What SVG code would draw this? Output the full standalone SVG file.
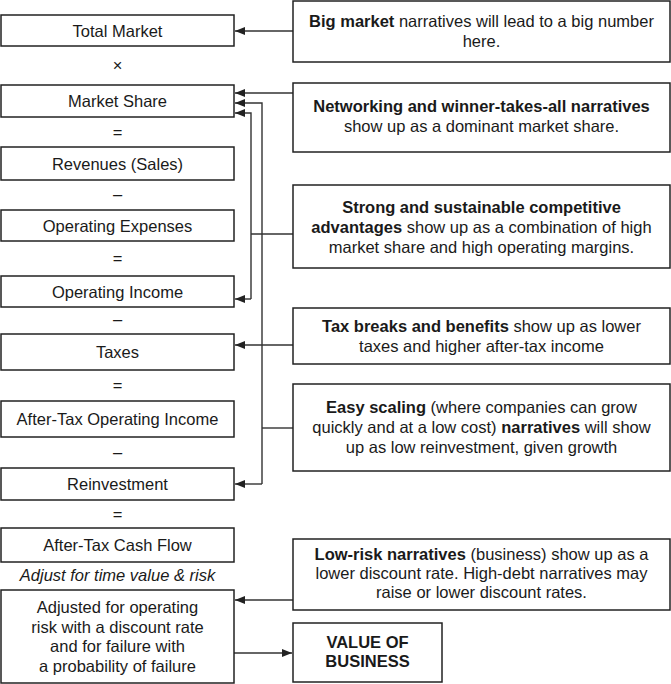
<svg xmlns="http://www.w3.org/2000/svg" width="671" height="684" viewBox="0 0 671 684">
<style>
  .box { fill: #fff; stroke: #222; stroke-width: 1.5; }
  .t { font-family: "Liberation Sans", Arial, Helvetica, sans-serif; font-size: 16.5px; fill: #1a1a1a; text-anchor: middle; }
  .b { font-weight: bold; }
  .i { font-style: italic; }
  .ln { fill: none; stroke: #333; stroke-width: 1.4; }
</style>
<defs>
  <marker id="ah" viewBox="0 0 10 8" refX="10" refY="4" markerWidth="10" markerHeight="8" markerUnits="userSpaceOnUse" orient="auto">
    <path d="M0,0 L10,4 L0,8 Z" fill="#222"/>
  </marker>
</defs>
<rect width="671" height="684" fill="#fff"/>

<g id="connectors">
  <line class="ln" x1="293" y1="31" x2="235" y2="31" marker-end="url(#ah)"/>
  <line class="ln" x1="293" y1="93" x2="235" y2="93" marker-end="url(#ah)"/>
  <polyline class="ln" points="262,484 262,103 235,103" marker-end="url(#ah)"/>
  <line class="ln" x1="262" y1="484" x2="235" y2="484" marker-end="url(#ah)"/>
  <line class="ln" x1="293" y1="428" x2="262" y2="428"/>
  <polyline class="ln" points="251,299 251,113 235,113" marker-end="url(#ah)"/>
  <line class="ln" x1="251" y1="299" x2="235" y2="299" marker-end="url(#ah)"/>
  <line class="ln" x1="293" y1="234" x2="251" y2="234"/>
  <line class="ln" x1="293" y1="345" x2="235" y2="345" marker-end="url(#ah)"/>
  <line class="ln" x1="293" y1="600" x2="235" y2="600" marker-end="url(#ah)"/>
  <line class="ln" x1="234" y1="653" x2="292" y2="653" marker-end="url(#ah)"/>
</g>

<g id="total-market"><rect class="box" x="1" y="15" width="233" height="31"/><text class="t" x="117.5" y="36.5">Total Market</text></g>
<text class="t" x="117.5" y="71">×</text>
<g id="market-share"><rect class="box" x="1" y="85" width="233" height="32"/><text class="t" x="117.5" y="107">Market Share</text></g>
<text class="t" x="117.5" y="137.5">=</text>
<g id="revenues"><rect class="box" x="1" y="147" width="233" height="33"/><text class="t" x="117.5" y="169.5">Revenues (Sales)</text></g>
<text class="t" x="117.5" y="200">–</text>
<g id="operating-expenses"><rect class="box" x="1" y="210" width="233" height="31"/><text class="t" x="117.5" y="231.5">Operating Expenses</text></g>
<text class="t" x="117.5" y="263.5">=</text>
<g id="operating-income"><rect class="box" x="1" y="276" width="233" height="31"/><text class="t" x="117.5" y="297.5">Operating Income</text></g>
<text class="t" x="117.5" y="325">–</text>
<g id="taxes"><rect class="box" x="1" y="334" width="233" height="36"/><text class="t" x="117.5" y="358">Taxes</text></g>
<text class="t" x="117.5" y="390.5">=</text>
<g id="after-tax-operating-income"><rect class="box" x="1" y="401" width="233" height="36"/><text class="t" x="117.5" y="425">After-Tax Operating Income</text></g>
<text class="t" x="117.5" y="458">–</text>
<g id="reinvestment"><rect class="box" x="1" y="468" width="233" height="32"/><text class="t" x="117.5" y="490">Reinvestment</text></g>
<text class="t" x="117.5" y="519.5">=</text>
<g id="after-tax-cash-flow"><rect class="box" x="1" y="528" width="233" height="34"/><text class="t" x="117.5" y="551">After-Tax Cash Flow</text></g>
<text class="t i" x="117.5" y="581">Adjust for time value &amp; risk</text>
<g id="adjusted"><rect class="box" x="1" y="590" width="233" height="93"/>
  <text class="t" x="117.5" y="613">Adjusted for operating</text>
  <text class="t" x="117.5" y="632.5">risk with a discount rate</text>
  <text class="t" x="117.5" y="652">and for failure with</text>
  <text class="t" x="117.5" y="671.5">a probability of failure</text>
</g>

<g id="big-market"><rect class="box" x="293" y="1" width="377" height="61"/>
  <text class="t" x="481.5" y="27"><tspan class="b">Big market</tspan> narratives will lead to a big number</text>
  <text class="t" x="481.5" y="47">here.</text>
</g>
<g id="networking"><rect class="box" x="293" y="83" width="377" height="69"/>
  <text class="t b" x="481.5" y="112">Networking and winner-takes-all narratives</text>
  <text class="t" x="481.5" y="132">show up as a dominant market share.</text>
</g>
<g id="competitive-advantages"><rect class="box" x="293" y="185" width="377" height="83"/>
  <text class="t b" x="481.5" y="213">Strong and sustainable competitive</text>
  <text class="t" x="481.5" y="233"><tspan class="b">advantages</tspan> show up as a combination of high</text>
  <text class="t" x="481.5" y="253">market share and high operating margins.</text>
</g>
<g id="tax-breaks"><rect class="box" x="293" y="308" width="377" height="56"/>
  <text class="t" x="481.5" y="332"><tspan class="b">Tax breaks and benefits</tspan> show up as lower</text>
  <text class="t" x="481.5" y="352">taxes and higher after-tax income</text>
</g>
<g id="easy-scaling"><rect class="box" x="293" y="384" width="377" height="87"/>
  <text class="t" x="481.5" y="413"><tspan class="b">Easy scaling</tspan> (where companies can grow</text>
  <text class="t" x="481.5" y="433">quickly and at a low cost) <tspan class="b">narratives</tspan> will show</text>
  <text class="t" x="481.5" y="453">up as low reinvestment, given growth</text>
</g>
<g id="low-risk"><rect class="box" x="293" y="539" width="377" height="71"/>
  <text class="t" x="481.5" y="560"><tspan class="b">Low-risk narratives</tspan> (business) show up as a</text>
  <text class="t" x="481.5" y="579">lower discount rate. High-debt narratives may</text>
  <text class="t" x="481.5" y="598">raise or lower discount rates.</text>
</g>
<g id="value-of-business"><rect class="box" x="293" y="623" width="149" height="59"/>
  <text class="t b" x="367.5" y="648">VALUE OF</text>
  <text class="t b" x="367.5" y="667">BUSINESS</text>
</g>
</svg>
